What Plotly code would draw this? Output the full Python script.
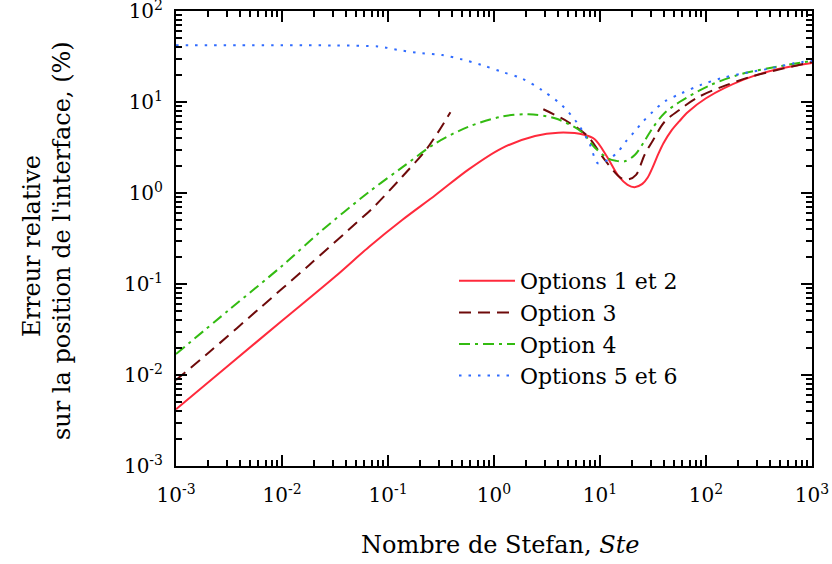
import plotly.graph_objects as go

# ---- data (Ste, relative error in %) ----
red_x = [0.001, 0.00316, 0.01, 0.0316, 0.0664, 0.136, 0.281, 0.577, 1.18, 2.44, 4.04, 7.08,
         8.91, 11.5, 15.1, 18.2, 21.2, 25.1, 28.2, 31.6, 35.5, 39.8, 46.8, 56.2, 67.6, 100,
         229, 468, 1000]
red_y = [0.0042, 0.0129, 0.0394, 0.120, 0.257, 0.505, 0.951, 1.82, 3.10, 4.23, 4.60, 4.37,
         3.89, 2.57, 1.51, 1.23, 1.16, 1.26, 1.48, 1.95, 2.69, 3.55, 4.79, 6.17, 7.76, 11.0,
         17.7, 22.9, 26.9]

brown_x = [0.001, 0.00208, 0.00615, 0.0181, 0.0498, 0.0713, 0.136, 0.234, 0.388, None,
           2.92, 5.01, 7.71, 11.1, 15.8, 18.6, 21.9, 26.3, 32.6, 40.5, 58.1, 83.2, 133, 259, 542, 1000]
brown_y = [0.00881, 0.0180, 0.0541, 0.162, 0.465, 0.679, 1.51, 3.10, 7.71, None,
           8.32, 6.03, 4.17, 2.31, 1.46, 1.41, 1.58, 2.62, 4.03, 6.03, 8.45, 11.2, 14.3, 18.8, 23.4, 27.5]

green_x = [0.001, 0.00316, 0.01, 0.0233, 0.0664, 0.136, 0.281, 0.577, 1.18, 2.11, 3.76, 6.68,
           8.91, 11.9, 14.1, 17.1, 21.4, 26.3, 31.6, 40.5, 56.2, 111, 229, 469, 1000]
green_y = [0.0170, 0.0519, 0.158, 0.380, 1.03, 1.91, 3.52, 5.36, 6.90, 7.33, 6.62, 4.72,
           3.16, 2.40, 2.26, 2.23, 2.63, 3.72, 5.25, 7.52, 10.0, 15.4, 20.7, 24.4, 28.4]

blue_x = [0.001, 0.01, 0.0316, 0.0822, 0.127, 0.21, 0.324, 0.499, 0.767, 1.18, 1.82, 2.81,
          4.34, 6.21, 8.00, 9.57, 11.9, 14.8, 17.7, 21.2, 25.4, 31.5, 40.5, 58.1, 89.5, 138,
          229, 406, 673, 1000]
blue_y = [42.0, 42.0, 41.8, 40.6, 37.2, 34.3, 32.8, 29.4, 25.5, 21.5, 18.2, 13.6,
          9.27, 5.71, 3.44, 2.12, 2.31, 2.84, 3.74, 4.72, 6.08, 7.82, 10.1, 12.4, 15.4, 18.2,
          20.7, 23.4, 26.6, 28.4]

series_names = ["Options 1 et 2", "Option 3", "Option 4", "Options 5 et 6"]

x_tick_vals = [1e-3, 1e-2, 1e-1, 1, 10, 100, 1000]
x_tick_text = ["10<sup>-3</sup>", "10<sup>-2</sup>", "10<sup>-1</sup>", "10<sup>0</sup>",
               "10<sup>1</sup>", "10<sup>2</sup>", "10<sup>3</sup>"]
y_tick_vals = [1e-3, 1e-2, 1e-1, 1, 10, 100]
y_tick_text = ["10<sup>-3</sup>", "10<sup>-2</sup>", "10<sup>-1</sup>", "10<sup>0</sup>",
               "10<sup>1</sup>", "10<sup>2</sup>"]

x_minor = [m * 10.0 ** e for e in range(-3, 3) for m in range(2, 10)]
y_minor = [m * 10.0 ** e for e in range(-3, 2) for m in range(2, 10)]

FONT = "DejaVu Serif"

fig = go.Figure()
styles = [
    (red_x, red_y, "#ff2a3c", "solid"),
    (brown_x, brown_y, "#6e0a0a", "12px,7px"),
    (green_x, green_y, "#33bb11", "11px,5px,3px,5px"),
    (blue_x, blue_y, "#2f6bff", "2.5px,7px"),
]
for i, (xs, ys, col, dash) in enumerate(styles):
    fig.add_trace(go.Scatter(
        x=xs, y=ys, mode="lines", name=series_names[i], legendgroup=str(i),
        line=dict(color=col, width=2, dash=dash, shape="spline", smoothing=0.9),
        connectgaps=False, hoverinfo="skip",
    ))
# trace on the mirrored (top / right) axes so that they get drawn
fig.add_trace(go.Scatter(x=[1e-3], y=[1e-3], xaxis="x2", yaxis="y2", mode="lines",
                         line=dict(width=0), showlegend=False, hoverinfo="skip"))

def axis_style(vals, text, minor_vals, rng, show_labels, standoff):
    return dict(
        type="log", range=rng, autorange=False, automargin=False,
        showgrid=False, zeroline=False,
        showline=True, linecolor="black", linewidth=2, mirror="allticks",
        ticks="inside", ticklen=11, tickwidth=2, tickcolor="black",
        tickmode="array", tickvals=vals, ticktext=text,
        showticklabels=show_labels, ticklabeloverflow="allow",
        ticklabelstandoff=standoff,
        tickfont=dict(family=FONT, size=20, color="black"),
        minor=dict(ticks="inside", ticklen=6, tickwidth=1.5, tickcolor="black",
                   tickmode="array", tickvals=minor_vals, showgrid=False),
    )

fig.update_layout(
    template="none",
    xaxis=axis_style(x_tick_vals, x_tick_text, x_minor, [-3, 3], True, 10),
    yaxis=axis_style(y_tick_vals, y_tick_text, y_minor, [-3, 2], True, 7),
    xaxis2=dict(axis_style(x_tick_vals, x_tick_text, x_minor, [-3, 3], False, 0),
                overlaying="x", side="top", anchor="y2"),
    yaxis2=dict(axis_style(y_tick_vals, y_tick_text, y_minor, [-3, 2], False, 0),
                overlaying="y", side="right", anchor="x2"),
)

fig.add_annotation(text="Nombre de Stefan, <i>Ste</i>", xref="paper", yref="paper",
                   x=(500 - 176) / 636, y=(466 - 545) / 455, xanchor="center", yanchor="middle",
                   showarrow=False, font=dict(family=FONT, size=24, color="black"))
fig.add_annotation(text="Erreur relative", xref="paper", yref="paper",
                   x=(32 - 176) / 636, y=(466 - 246) / 455, xanchor="center", yanchor="middle",
                   textangle=-90, showarrow=False,
                   font=dict(family=FONT, size=24, color="black"))
fig.add_annotation(text="sur la position de l'interface, (%)", xref="paper", yref="paper",
                   x=(62 - 176) / 636, y=(466 - 241) / 455, xanchor="center", yanchor="middle",
                   textangle=-90, showarrow=False,
                   font=dict(family=FONT, size=24, color="black"))

fig.update_layout(
    width=832, height=564,
    margin=dict(l=176, r=20, t=11, b=98),
    paper_bgcolor="white", plot_bgcolor="white",
    showlegend=True, hovermode=False,
    legend=dict(x=(454 - 176) / 636, y=(466 - 260) / 455, xanchor="left", yanchor="top",
                bgcolor="rgba(0,0,0,0)", borderwidth=0, itemwidth=56,
                traceorder="grouped", tracegroupgap=0,
                font=dict(family=FONT, size=22, color="black")),
)

fig.write_html("out.html", config={"displayModeBar": False},
               post_script="document.body.style.margin='0px';")
